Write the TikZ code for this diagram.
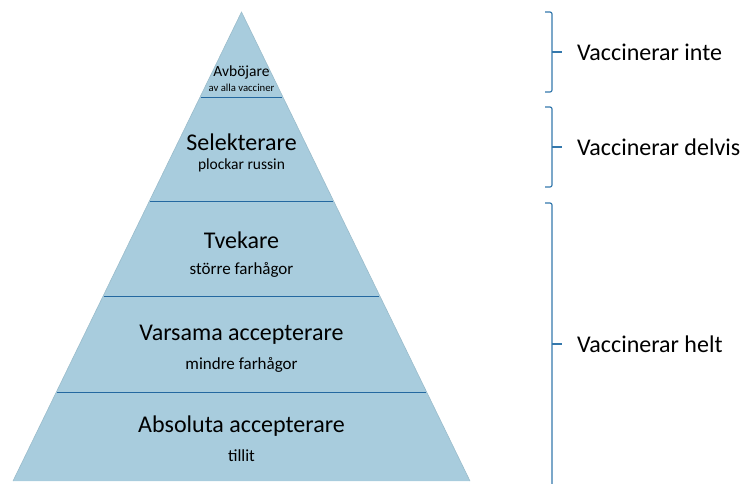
\documentclass[tikz,border=0pt]{standalone}
\usepackage{fontspec}
\setmainfont{Carlito}
\usepackage{tikz}
\usetikzlibrary{positioning}
\definecolor{layerfill}{RGB}{168,204,221}
\definecolor{layerline}{RGB}{36,104,160}
\definecolor{braceline}{RGB}{52,120,172}
\tikzset{layertitle/.style={inner sep=0pt,font=\fontsize{24}{28}\selectfont},
  layernote/.style={inner sep=0pt,font=\fontsize{17}{20}\selectfont},
  bracket/.style={draw=braceline,line width=1.2pt,rounded corners=2pt},
  groupname/.style={anchor=west,inner sep=0pt,font=\fontsize{24}{28}\selectfont} }

\begin{document}
\begin{tikzpicture}[x=1pt,y=-1pt]
    \useasboundingbox (0,0) rectangle (749,483);
    % pyramid
    \fill[layerfill] (241.5,12) -- (470,481) -- (13,481) -- cycle;
    \draw[layerfill!80!black!40!layerfill,line width=0.6pt] (13,481) -- (241.5,12) -- (470,481);
    \draw[layerline,line width=1pt] (200.6,97) -- (282.4,97);
    \draw[layerline,line width=1pt] (149.9,201) -- (333.1,201);
    \draw[layerline,line width=1pt] (103.6,296) -- (379.4,296);
    \draw[layerline,line width=1pt] (56.9,392) -- (426.1,392);
    % layers
    \node[inner sep=0pt,font=\fontsize{15.5}{18}\selectfont] (avb) at (241.5,72) {Avböjare};
    \node[inner sep=0pt,font=\fontsize{10.7}{13}\selectfont] (avbnote) at (241.5,88) {av alla vacciner};
    \node[layertitle] (sel) at (241.5,142) {Selekterare};
    \node[inner sep=0pt,font=\fontsize{15.5}{18}\selectfont] (selnote) at (241.5,165) {plockar russin};
    \node[layertitle] (tve) at (241.5,240) {Tvekare};
    \node[layernote] (tvenote) at (241.5,270) {större farhågor};
    \node[layertitle] (var) at (241.5,335) {Varsama accepterare};
    \node[layernote] (varnote) at (241.5,365) {mindre farhågor};
    \node[layertitle] (abs) at (241.5,426) {Absoluta accepterare};
    \node[layernote] (absnote) at (241.5,456) {tillit};
    % groups
    \draw[bracket] (545,12) -- (552,12) -- (552,92) -- (545,92);
    \draw[braceline,line width=1.2pt] (552,52) -- (562,52);
    \node[groupname] (inte) at (577,52) {Vaccinerar inte};
    \draw[bracket] (545,107) -- (552,107) -- (552,187) -- (545,187);
    \draw[braceline,line width=1.2pt] (552,147) -- (562,147);
    \node[groupname] (delvis) at (577,147) {Vaccinerar delvis};
    \draw[bracket] (545,203) -- (552,203) -- (552,485);
    \draw[braceline,line width=1.2pt] (552,344) -- (562,344);
    \node[groupname] (helt) at (577,344) {Vaccinerar helt};
\end{tikzpicture}
\end{document}
